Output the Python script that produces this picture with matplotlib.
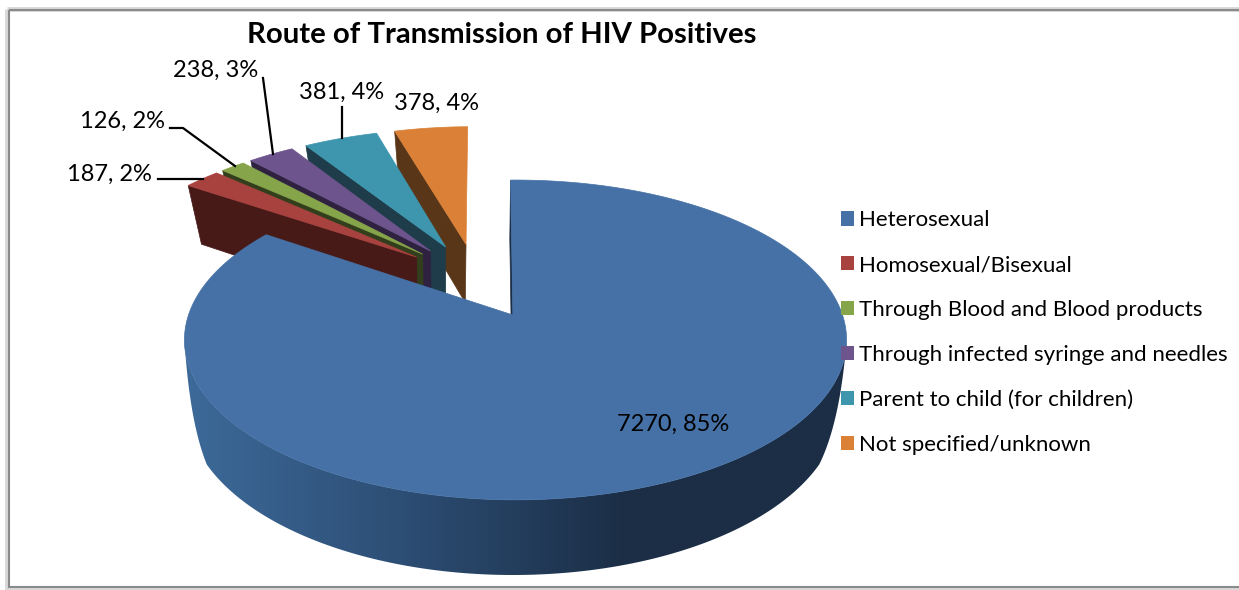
import numpy as np
import matplotlib
matplotlib.use("Agg")
import matplotlib.pyplot as plt
from matplotlib.colors import LinearSegmentedColormap
from matplotlib.patches import Patch, Polygon, Rectangle

categories = ["Heterosexual", "Homosexual/Bisexual", "Through Blood and Blood products",
	"Through infected syringe and needles", "Parent to child (for children)", "Not specified/unknown"]
counts = [7270, 187, 126, 238, 381, 378]
percents = [85, 2, 2, 3, 4, 4]
colors = ["#4571a6", "#a8423f", "#86a44a", "#6e548d", "#3d96ae", "#da8137"]
side_colors = ["#1b2e46", "#471a18", "#333f1c", "#2e2240", "#1f3c4a", "#5a3619"]

plt.rcParams["font.family"] = ["Lato", "DejaVu Sans"]

# 3d look: plane coordinates go through a simple perspective, top and bottom face
TOP = dict(cx=515.5, y0=315, a=327, b=156, k=0.156)
BOTTOM = dict(cx=513, y0=375, a=320, b=162, k=0.19)
INNER = dict(BOTTOM, cx=514.5)
START = -1.0
EXPLODE = 0.25
SHIFT = (-0.124, 0.24)


def project(X, Y, face):
	w = 1 + face["k"] * Y
	return face["cx"] + face["a"] * X / w, face["y0"] - face["b"] * Y / w


def rim(tip, phi, face):
	r = np.radians(phi)
	return project(tip[0] + np.sin(r), tip[1] + np.cos(r), face)


def side_curve(p0, p2):
	# rounded silhouette between top rim and bottom rim
	p0, p2 = np.array(p0), np.array(p2)
	p1 = p0 + np.array([0.23, 0.66]) * (p2 - p0)
	t = np.linspace(0, 1, 40)[:, None]
	return (1 - t) ** 2 * p0 + 2 * t * (1 - t) * p1 + t ** 2 * p2


fig = plt.figure(figsize=(12.39, 5.9), dpi=100)
ax = fig.add_axes([0, 0, 1, 1])
ax.axis("off")

# chart frame with soft shadow
ax.add_patch(Rectangle((7, 9), 1300, 579, fill=False, ec="#d8d8d8", lw=3.5))
ax.add_patch(Rectangle((8.5, 10), 1300, 577, fill=False, ec="#8a8a8a", lw=1.5))

total = sum(counts)
sweeps = [c / total * 360 for c in counts]
edges = START + np.concatenate(([0], np.cumsum(sweeps)))

# small slices, back to front
for i in range(len(counts) - 1, 0, -1):
	a0, a1 = edges[i], edges[i + 1]
	mid = np.radians((a0 + a1) / 2)
	tip = (SHIFT[0] + EXPLODE * np.sin(mid), SHIFT[1] + EXPLODE * np.cos(mid))
	# radial side face
	x0, y0 = rim(tip, a0, TOP)
	x1, y1 = project(tip[0], tip[1], TOP)
	x2, y2 = project(tip[0], tip[1], BOTTOM)
	x3, y3 = rim(tip, a0, BOTTOM)
	ax.fill([x0, x1, x2, x3], [y0, y1, y2, y3], color=side_colors[i], lw=0.5)
	# top face
	phi = np.linspace(a0, a1, 30)
	xs, ys = rim(tip, phi, TOP)
	tx, ty = project(tip[0], tip[1], TOP)
	ax.fill(np.r_[tx, xs], np.r_[ty, ys], color=colors[i], lw=0.5)

# big slice: inner face, outer wall, then top
a0, a1 = edges[0], edges[1]
tip = (0.0, 0.0)
x0, y0 = rim(tip, a0, TOP)
x1, y1 = project(-0.008, 0, TOP)
x2, y2 = project(-0.008, 0, INNER)
x3, y3 = rim(tip, a0, INNER)
ax.fill([x0, x1, x2, x3], [y0, y1, y2, y3], color=side_colors[0], lw=0.5)

# wall gradient runs left to right and is clipped to the front of the rim
tx, ty = rim(tip, np.linspace(99, 261, 200), TOP)
bx, by = rim(tip, np.linspace(240, 120, 200), BOTTOM)
left = side_curve((tx[-1], ty[-1]), (bx[0], by[0]))
right = side_curve((tx[0], ty[0]), (bx[-1], by[-1]))[::-1]
wall = Polygon(np.r_[np.c_[tx, ty], left, np.c_[bx, by], right], closed=True, fc="none", ec="none")
ax.add_patch(wall)
shade = LinearSegmentedColormap.from_list("wall", ["#3c6998", "#2d4e75", "#1b2e46"])
ramp = np.interp(np.linspace(180, 850, 670), [190, 400, 625], [0, 0.5, 1]).reshape(1, -1)
img = ax.imshow(ramp, cmap=shade, vmin=0, vmax=1, extent=(180, 850, 590, 200), aspect="auto", zorder=1)
img.set_clip_path(wall)

phi = np.linspace(a0, a1, 500)
tx, ty = rim(tip, phi, TOP)
cx0, cy0 = project(-0.008, 0, TOP)
ax.fill(np.r_[cx0, tx], np.r_[cy0, ty], color=colors[0], lw=0.5, zorder=2)

# leader lines
ax.plot([158, 203], [179, 179], color="black", lw=1.6, zorder=3)
ax.plot([170, 183, 235], [128, 128, 166], color="black", lw=1.6, zorder=3)
ax.plot([263, 273], [78, 154], color="black", lw=1.6, zorder=3)
ax.plot([342, 342], [107, 138], color="black", lw=1.6, zorder=3)

label_x = [673, 109, 123, 216, 342, 436]
label_y = [424, 174, 121, 70, 92, 103]
for i in range(len(counts)):
	ax.text(label_x[i], label_y[i], f"{counts[i]}, {percents[i]}%", fontsize=17,
		ha="center", va="center", color="black", zorder=4)

ax.text(502, 35, "Route of Transmission of HIV Positives", fontsize=21.2, fontweight="bold",
	ha="center", va="center", color="black", zorder=4)

ax.set_xlim(0, 1239)
ax.set_ylim(590, 0)

handles = [Patch(facecolor=colors[i], edgecolor="none", label=categories[i]) for i in range(len(categories))]
ax.legend(handles=handles, loc="center left", bbox_to_anchor=(841 / 1239, 1 - 332.5 / 590),
	frameon=False, fontsize=16, labelspacing=1.12, handlelength=0.6, handleheight=0.6,
	handletextpad=0.2, borderpad=0, borderaxespad=0)

fig.savefig("out.png", dpi=100)
